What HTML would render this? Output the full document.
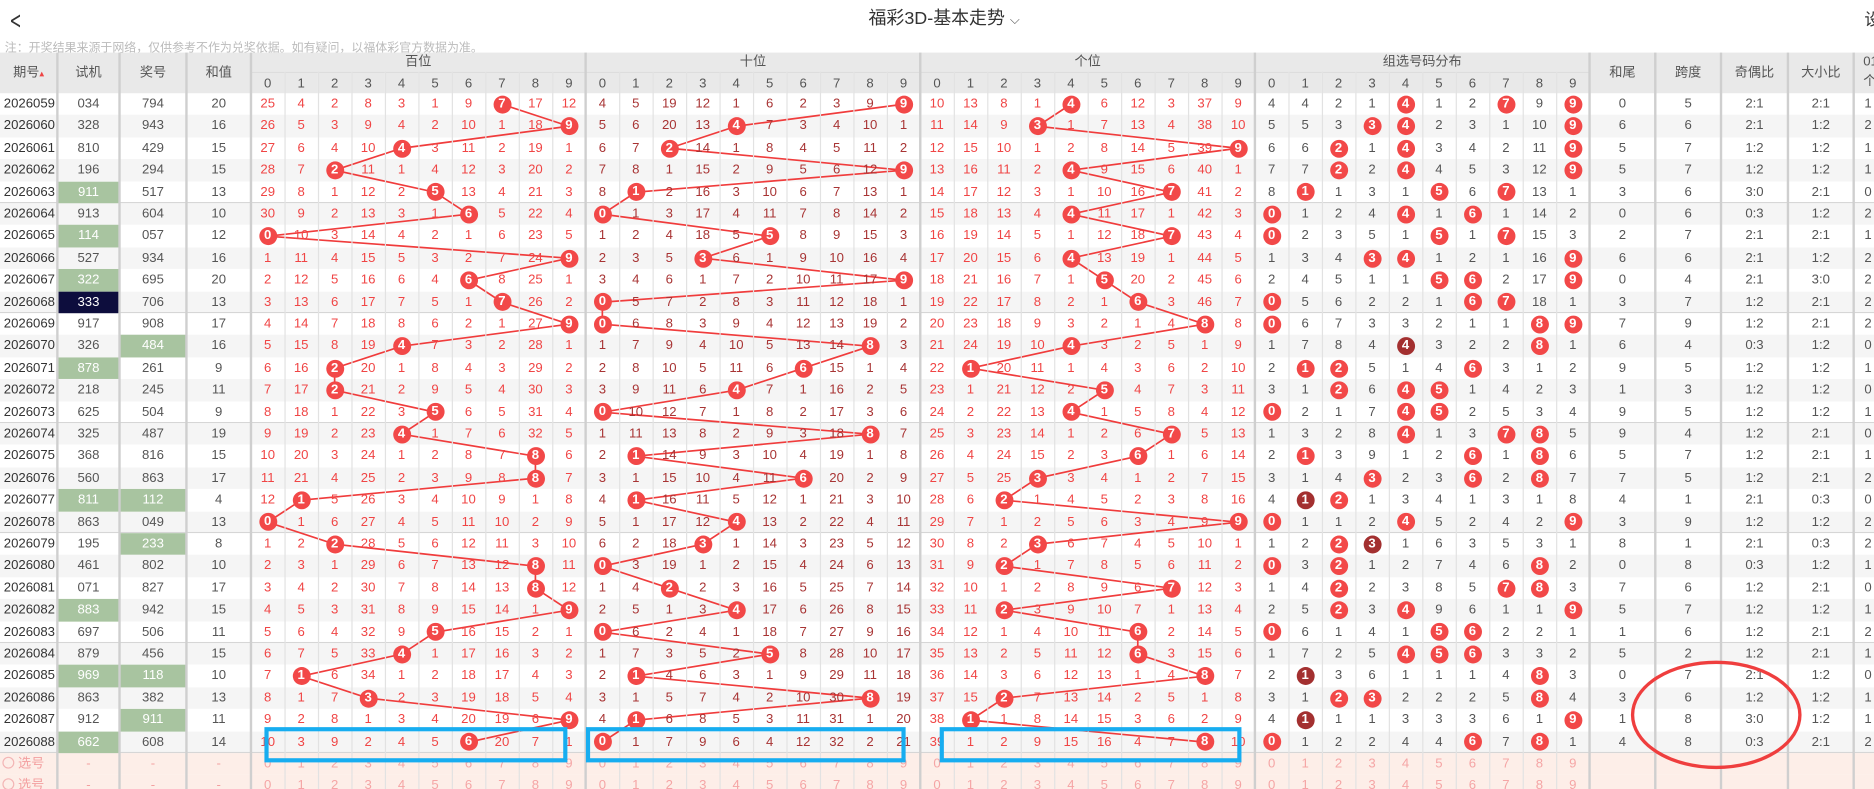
<!DOCTYPE html>
<html><head><meta charset="utf-8">
<style>
html,body{margin:0;padding:0;background:#fff;overflow:hidden;width:1874px;height:789px}
#w{position:absolute;left:0;top:0;width:1568px;height:660px;transform:scale(1.19515,1.19545);transform-origin:0 0;font-family:"Liberation Sans","Noto Sans CJK SC",sans-serif;overflow:hidden}
.c{position:absolute;text-align:center;font-size:11px;line-height:18.4px;height:18.4px;white-space:nowrap}
.b{position:absolute;width:15px;height:15px;border-radius:50%;background:#f24848;color:#fff;font-weight:bold;font-size:11px;line-height:15px;text-align:center}
.h{position:absolute;background:#e9e9e9;color:#555;text-align:center;font-size:11px}
.vl{position:absolute;top:44px;height:616px;width:1px;background:#e2e2e2}
.vL{position:absolute;top:44px;height:616px;width:2px;background:#cfcfcf}
</style></head><body>
<div id="w">
<div style="position:absolute;left:8px;top:5px;font-size:20px;color:#333;font-family:'DejaVu Sans',sans-serif;transform:scaleX(0.6);transform-origin:0 0">&lt;</div>
<div style="position:absolute;left:0;width:1580px;top:4px;text-align:center;font-size:15px;color:#333">福彩3D-基本走势 <span style="font-size:11px;color:#555">⌵</span></div>
<div style="position:absolute;left:1560px;top:6px;font-size:14px;color:#333">设</div>
<div style="position:absolute;left:4px;top:31px;font-size:10px;color:#bbb">注：开奖结果来源于网络，仅供参考不作为兑奖依据。如有疑问，以福体彩官方数据为准。</div>
<div id="g"></div>
<div class="h" style="left:0;top:44px;width:48px;height:34px;line-height:34px">期号<span style="color:#e44;font-size:8px">▴</span></div>
<div class="h" style="left:48px;top:44px;width:52px;height:34px;line-height:34px">试机</div>
<div class="h" style="left:100px;top:44px;width:56px;height:34px;line-height:34px">奖号</div>
<div class="h" style="left:156px;top:44px;width:54px;height:34px;line-height:34px">和值</div>
<div class="h" style="left:210px;top:44px;width:280px;height:16px;line-height:16px">百位</div>
<div class="h" style="left:490px;top:44px;width:280px;height:16px;line-height:16px">十位</div>
<div class="h" style="left:770px;top:44px;width:280px;height:16px;line-height:16px">个位</div>
<div class="h" style="left:1050px;top:44px;width:280px;height:16px;line-height:16px">组选号码分布</div>
<div class="h" style="left:1330px;top:44px;width:55px;height:34px;line-height:34px">和尾</div>
<div class="h" style="left:1385px;top:44px;width:55px;height:34px;line-height:34px">跨度</div>
<div class="h" style="left:1440px;top:44px;width:56px;height:34px;line-height:34px">奇偶比</div>
<div class="h" style="left:1496px;top:44px;width:55px;height:34px;line-height:34px">大小比</div>
<div class="h" style="left:1551px;top:44px;width:40px;height:34px;line-height:16px;text-align:left;padding-left:8px">012<br>个</div>
<svg id="s" width="1568" height="660" style="position:absolute;left:0;top:0"></svg>
<div id="t"></div>
<svg width="1568" height="660" style="position:absolute;left:0;top:0">
<rect x="223" y="610" width="250" height="26" fill="none" stroke="#17adf0" stroke-width="3.5"/>
<rect x="492" y="610" width="264" height="26" fill="none" stroke="#17adf0" stroke-width="3.5"/>
<rect x="788" y="610" width="249" height="26" fill="none" stroke="#17adf0" stroke-width="3.5"/>
<ellipse cx="1436" cy="598" rx="70" ry="44" fill="none" stroke="#ef3e3e" stroke-width="2.8"/>
</svg>
</div>
<script>
var draws="794 943 429 294 517 604 057 934 695 706 908 484 261 245 504 487 816 863 112 049 233 802 827 942 506 456 118 382 911 608".split(" ");
var tests="034 328 810 196 911 913 114 527 322 333 917 326 878 218 625 325 368 560 811 863 195 461 071 883 697 879 969 863 912 662".split(" ");
var last=[1,2,1,1,0,2,1,2,2,2,2,0,1,0,1,0,1,2,0,2,2,1,0,1,2,1,0,1,1,2];
var init=[[25,4,2,8,3,1,9,0,17,12],[4,5,19,12,1,6,2,3,9,0],[10,13,8,1,0,6,12,3,37,9],[4,4,2,1,0,1,2,0,9,0]];
var H=18.4,Y0=78,t="",g="",s="";
var colors=["#f04545","#a83434","#f04545","#555"];
var prev=null,pts=[[],[],[]];
for(var i=0;i<30;i++){
 var y=Y0+i*H,d=draws[i].split("").map(Number);
 g+='<div style="position:absolute;left:0;top:'+y+'px;width:1568px;height:'+H+'px;background:'+(i%2?'#f5f5f5':'#fff')+'"></div>';
 if(i%5==4)g+='<div style="position:absolute;left:0;top:'+(y+H-1)+'px;width:1568px;height:1px;background:#d6d6d6"></div>';
 var cur=[];
 for(var p=0;p<4;p++){
  cur[p]=[];
  for(var k=0;k<10;k++){
   var hit=p<3?(d[p]==k):(d.indexOf(k)>=0);
   if(i==0){cur[p][k]=init[p][k];}
   else cur[p][k]=hit?0:(prev[p][k]+1);
   var x=210+280*p+28*k;
   if(hit){
    var cnt=d.filter(function(v){return v==k}).length;
    var bg=(p==3&&cnt>1)?'#a33030':'#f24848';
    t+='<div class="b" style="left:'+(x+6.5)+'px;top:'+(y+1.7)+'px;background:'+bg+'">'+k+'</div>';
    if(p<3)pts[p].push((x+14)+','+(y+9.2));
   } else t+='<div class="c" style="left:'+x+'px;top:'+y+'px;width:28px;color:'+colors[p]+'">'+cur[p][k]+'</div>';
  }
 }
 prev=cur;
 var tc=tests[i],tcs=tc.split(""),tg=(tcs[0]==tcs[1]||tcs[1]==tcs[2]||tcs[0]==tcs[2]);
 var trip=(tcs[0]==tcs[1]&&tcs[1]==tcs[2]);
 var dg=(d[0]==d[1]||d[1]==d[2]||d[0]==d[2]);
 t+='<div class="c" style="left:-6px;top:'+y+'px;width:52px;text-align:right;color:#333">'+(2026059+i)+'</div>';
 t+='<div class="c" style="left:48px;top:'+y+'px;width:52px;color:'+(tg?'#fff':'#555')+';background:'+(trip?'#0d0d3d':tg?'#a8c4a0':'transparent')+'">'+tc+'</div>';
 t+='<div class="c" style="left:100px;top:'+y+'px;width:56px;color:'+(dg?'#fff':'#555')+';background:'+(dg?'#a8c4a0':'transparent')+'">'+draws[i]+'</div>';
 var sum=d[0]+d[1]+d[2],mx=Math.max.apply(0,d),mn=Math.min.apply(0,d);
 var odd=d.filter(function(v){return v%2}).length,big=d.filter(function(v){return v>=5}).length;
 t+='<div class="c" style="left:156px;top:'+y+'px;width:54px;color:#555">'+sum+'</div>';
 t+='<div class="c" style="left:1330px;top:'+y+'px;width:55px;color:#555">'+(sum%10)+'</div>';
 t+='<div class="c" style="left:1385px;top:'+y+'px;width:55px;color:#555">'+(mx-mn)+'</div>';
 t+='<div class="c" style="left:1440px;top:'+y+'px;width:56px;color:#555">'+odd+':'+(3-odd)+'</div>';
 t+='<div class="c" style="left:1496px;top:'+y+'px;width:55px;color:#555">'+big+':'+(3-big)+'</div>';
 t+='<div class="c" style="left:1560px;top:'+y+'px;width:20px;text-align:left;color:#555">'+last[i]+'</div>';
}
for(var r=0;r<2;r++){
 var y=Y0+30*H+r*H;
 g+='<div style="position:absolute;left:0;top:'+y+'px;width:1568px;height:'+H+'px;background:#fdeee8"></div>';
 t+='<div class="c" style="left:2px;top:'+y+'px;width:46px;text-align:left;color:#f3a0a0"><span style="display:inline-block;width:8px;height:8px;border:1px solid #f3b5b5;border-radius:50%;vertical-align:-1px"></span> 选号</div>';
 t+='<div class="c" style="left:48px;top:'+y+'px;width:52px;color:#f3a0a0">-</div>';
 t+='<div class="c" style="left:100px;top:'+y+'px;width:56px;color:#f3a0a0">-</div>';
 t+='<div class="c" style="left:156px;top:'+y+'px;width:54px;color:#f3a0a0">-</div>';
 for(var p=0;p<4;p++)for(var k=0;k<10;k++)t+='<div class="c" style="left:'+(210+280*p+28*k)+'px;top:'+y+'px;width:28px;color:#f5a5a5">'+k+'</div>';
}
for(var p=0;p<4;p++)for(var k=0;k<10;k++)g+='<div class="h" style="left:'+(210+280*p+28*k)+'px;top:60px;width:28px;height:18px;line-height:18px;border-top:1px solid #dcdcdc;box-sizing:border-box">'+k+'</div>';
for(var p=0;p<4;p++)for(var k=1;k<10;k++)t+='<div class="vl" style="left:'+(210+280*p+28*k)+'px;top:60px;height:600px"></div>';
[48,100,156,210,490,770,1050,1330,1385,1440,1496,1551].forEach(function(x){t+='<div class="vL" style="left:'+(x-1)+'px"></div>'});
document.getElementById("g").innerHTML=g;
document.getElementById("t").innerHTML=t;
var sv="";for(var p=0;p<3;p++)sv+='<polyline points="'+pts[p].join(" ")+'" fill="none" stroke="#f03c3c" stroke-width="1.4"/>';
var S=document.getElementById("s");S.innerHTML=sv;
document.getElementById("w").insertBefore(S,document.getElementById("t"));
</script>
</body></html>
